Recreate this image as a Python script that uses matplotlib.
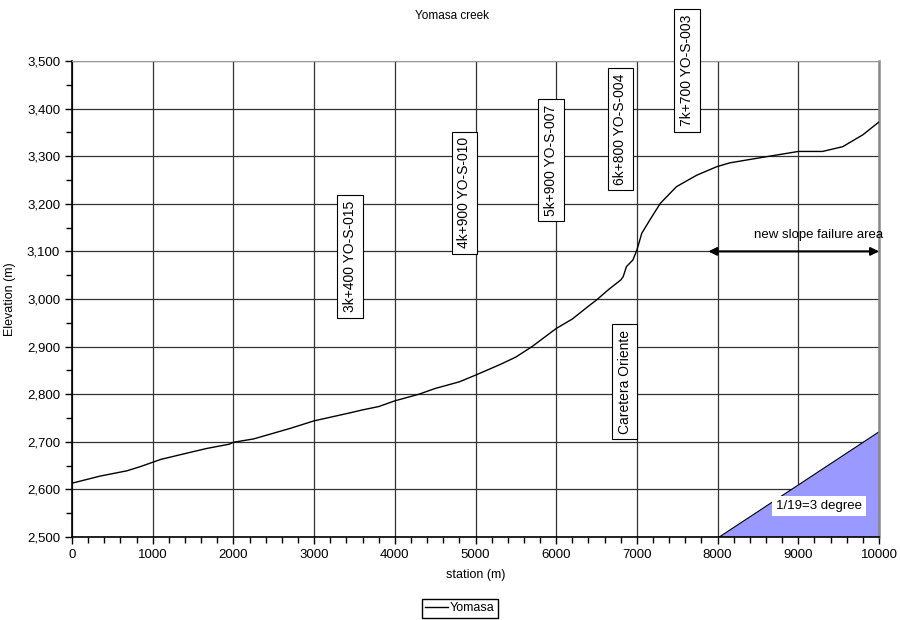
import matplotlib
matplotlib.use("Agg")
import matplotlib.pyplot as plt
from matplotlib.ticker import MultipleLocator, FuncFormatter

plt.rcParams['font.family'] = ['Liberation Sans', 'DejaVu Sans']

# profile of the creek (station m, elevation m)
station = [0, 350, 680, 850, 1000, 1100, 1420, 1670, 1950, 2000, 2250, 2700,
           3000, 3450, 3600, 3800, 4000, 4300, 4500, 4800, 5000, 5300, 5500,
           5700, 6000, 6200, 6400, 6500, 6650, 6800, 6830, 6870, 6950, 7000,
           7060, 7160, 7290, 7490, 7740, 7990, 8150, 8500, 9000, 9300, 9550,
           9800, 10000]
elevation = [2613, 2628, 2639, 2648, 2657, 2663, 2676, 2686, 2695, 2699, 2706,
             2728, 2744, 2761, 2767, 2774, 2786, 2800, 2812, 2826, 2840, 2862,
             2878, 2900, 2938, 2958, 2985, 2998, 3020, 3040, 3047, 3068, 3082,
             3103, 3138, 3166, 3201, 3236, 3260, 3278, 3286, 3296, 3310, 3310,
             3320, 3345, 3372]

# vertical label boxes: text, station, elevation of box centre
label_text = ["3k+400 YO-S-015", "4k+900 YO-S-010", "5k+900 YO-S-007",
              "6k+800 YO-S-004", "7k+700 YO-S-003", "Caretera Oriente"]
label_x = [3445, 4862, 5936, 6795, 7621, 6850]
label_y = [3089, 3223, 3292, 3357, 3480, 2826]

# slope triangle and slope failure area
tri_x = [8000, 10000, 10000]
tri_y = [2500, 2500, 2723]
arrow_x = [7885, 10000]
arrow_y = 3100

fig = plt.figure(figsize=(9, 6.2), dpi=100)
ax = fig.add_axes([0.08, 0.1339, 0.8967, 0.7677])

ax.fill(tri_x, tri_y, facecolor="#9999ff", edgecolor="black", lw=0.8, zorder=2)
ax.plot(station, elevation, color="black", lw=1.0, label="Yomasa", zorder=3)

ax.set_xlim(0, 10000)
ax.set_ylim(2500, 3500)
ax.xaxis.set_major_locator(MultipleLocator(1000))
ax.xaxis.set_minor_locator(MultipleLocator(200))
ax.yaxis.set_major_locator(MultipleLocator(100))
ax.yaxis.set_minor_locator(MultipleLocator(50))
ax.yaxis.set_major_formatter(FuncFormatter(lambda v, p: f"{v:,.0f}"))
ax.grid(True, which="major", color="#333333", lw=0.9)
ax.tick_params(which="major", length=5, width=1, labelsize=9.5, colors="black")
ax.tick_params(which="minor", length=4, width=1)
ax.spines["top"].set_color("#999999")
ax.spines["right"].set_color("#888888")
ax.spines["right"].set_linewidth(1.8)
ax.spines["left"].set_linewidth(1.2)
ax.spines["bottom"].set_linewidth(1.2)

ax.set_xlabel("station (m)", fontsize=9, labelpad=6)
ax.set_ylabel("Elevation (m)", fontsize=9, labelpad=8)
fig.text(0.502, 0.974, "Yomasa creek", ha="center", va="center", fontsize=8.5)

for t, x, y in zip(label_text, label_x, label_y):
    ax.text(x, y, t, rotation=90, ha="center", va="center", fontsize=10,
            zorder=5,
            bbox=dict(boxstyle="square,pad=0.4", fc="white", ec="black", lw=0.8))

ax.annotate("", xy=(arrow_x[0], arrow_y), xytext=(arrow_x[1], arrow_y),
            arrowprops=dict(arrowstyle="<|-|>", color="black", lw=1.5,
                            shrinkA=0, shrinkB=0, mutation_scale=12),
            zorder=4)
ax.text(9256, 3134, "new slope failure area", ha="center", va="center",
        fontsize=9.5, zorder=4)
ax.text(9256, 2566, "1/19=3 degree", ha="center", va="center", fontsize=9.5,
        zorder=4, bbox=dict(boxstyle="square,pad=0.3", fc="white", ec="none"))

fig.legend(loc="lower center", bbox_to_anchor=(0.511, 0.0), fontsize=9,
           frameon=True, fancybox=False, edgecolor="black", framealpha=1,
           handlelength=1.8, handletextpad=0.2, borderpad=0.25,
           borderaxespad=0.2)

fig.savefig("out.png", dpi=100)
